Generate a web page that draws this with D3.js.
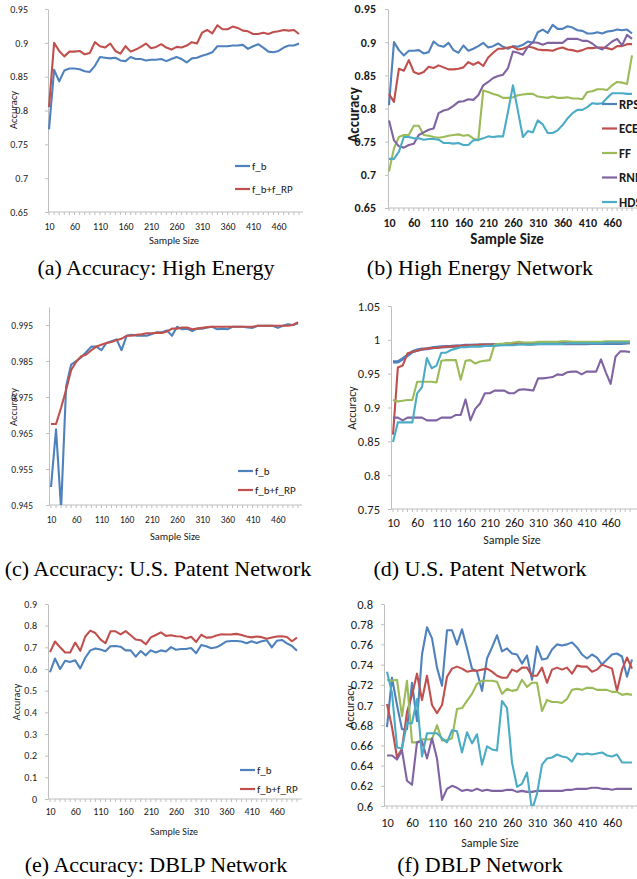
<!DOCTYPE html>
<html>
<head>
<meta charset="utf-8">
<script src="https://cdn.jsdelivr.net/npm/d3@7"></script>
<style>
  body { margin: 0; background: #fff; }
  svg { display: block; }
</style>
</head>
<body>
<script>
"use strict";

// sample sizes on the x axis (one point each)
const sampleSizes = [10, 20, 30, 40, 50, 60, 70, 80, 90, 100,
    110, 120, 130, 140, 150, 160, 170, 180, 190, 200,
    210, 220, 230, 240, 250, 260, 270, 280, 290, 300,
    310, 320, 330, 340, 350, 360, 370, 380, 390, 400,
    410, 420, 430, 440, 450, 460, 470, 480, 490, 500]
const xTickLabels = [10, 60, 110, 160, 210, 260, 310, 360, 410, 460]

// y tick labels per panel
const yTicksHE = [0.65, 0.7, 0.75, 0.8, 0.85, 0.9, 0.95]
const yTicksPatentA = [0.945, 0.955, 0.965, 0.975, 0.985, 0.995]
const yTicksPatentB = [0.75, 0.8, 0.85, 0.9, 0.95, 1, 1.05]
const yTicksDblpA = [0, 0.1, 0.2, 0.3, 0.4, 0.5, 0.6, 0.7, 0.8, 0.9]
const yTicksDblpB = [0.6, 0.62, 0.64, 0.66, 0.68, 0.7, 0.72, 0.74, 0.76, 0.78, 0.8]

// High Energy
const heRPS = [0.805, 0.900, 0.888, 0.880, 0.887, 0.887, 0.888, 0.883, 0.885, 0.901,
    0.895, 0.893, 0.899, 0.888, 0.884, 0.895, 0.887, 0.890, 0.894, 0.899,
    0.892, 0.894, 0.898, 0.893, 0.890, 0.894, 0.893, 0.896, 0.901, 0.899,
    0.915, 0.919, 0.914, 0.926, 0.920, 0.920, 0.924, 0.922, 0.918, 0.917,
    0.913, 0.913, 0.915, 0.913, 0.916, 0.917, 0.919, 0.918, 0.919, 0.913]
const heFb = [0.772, 0.860, 0.843, 0.859, 0.862, 0.862, 0.861, 0.858, 0.857, 0.866,
    0.879, 0.878, 0.877, 0.878, 0.874, 0.873, 0.879, 0.876, 0.876, 0.874,
    0.875, 0.875, 0.876, 0.873, 0.876, 0.879, 0.876, 0.871, 0.877, 0.878,
    0.881, 0.883, 0.886, 0.895, 0.895, 0.895, 0.896, 0.896, 0.897, 0.891,
    0.895, 0.898, 0.893, 0.887, 0.886, 0.888, 0.893, 0.896, 0.896, 0.899]
const heECE = [0.822, 0.810, 0.860, 0.857, 0.873, 0.855, 0.852, 0.855, 0.863, 0.861,
    0.865, 0.862, 0.859, 0.859, 0.860, 0.862, 0.870, 0.866, 0.870, 0.864,
    0.877, 0.884, 0.890, 0.890, 0.892, 0.893, 0.889, 0.890, 0.893, 0.892,
    0.889, 0.888, 0.888, 0.887, 0.890, 0.892, 0.889, 0.888, 0.886, 0.888,
    0.891, 0.891, 0.892, 0.892, 0.891, 0.889, 0.894, 0.894, 0.897, 0.897]
const heFF = [0.705, 0.740, 0.757, 0.760, 0.760, 0.774, 0.774, 0.760, 0.759, 0.757,
    0.756, 0.757, 0.759, 0.760, 0.761, 0.759, 0.760, 0.755, 0.752, 0.827,
    0.825, 0.822, 0.820, 0.816, 0.816, 0.817, 0.820, 0.821, 0.822, 0.822,
    0.818, 0.817, 0.816, 0.818, 0.816, 0.816, 0.817, 0.815, 0.815, 0.814,
    0.825, 0.826, 0.829, 0.829, 0.828, 0.835, 0.840, 0.839, 0.837, 0.880]
const heRNN = [0.782, 0.752, 0.743, 0.741, 0.745, 0.747, 0.760, 0.764, 0.768, 0.770,
    0.793, 0.797, 0.799, 0.804, 0.810, 0.811, 0.814, 0.813, 0.820, 0.835,
    0.840, 0.846, 0.849, 0.851, 0.861, 0.886, 0.884, 0.881, 0.893, 0.900,
    0.899, 0.896, 0.899, 0.899, 0.899, 0.899, 0.905, 0.905, 0.905, 0.902,
    0.902, 0.898, 0.892, 0.889, 0.895, 0.901, 0.905, 0.895, 0.911, 0.905]
const heHDS = [0.724, 0.724, 0.735, 0.757, 0.757, 0.755, 0.755, 0.753, 0.754, 0.754,
    0.753, 0.748, 0.748, 0.747, 0.748, 0.745, 0.745, 0.752, 0.753, 0.755,
    0.758, 0.757, 0.758, 0.758, 0.795, 0.835, 0.796, 0.757, 0.766, 0.764,
    0.782, 0.776, 0.763, 0.763, 0.767, 0.775, 0.785, 0.793, 0.798, 0.798,
    0.802, 0.808, 0.807, 0.808, 0.816, 0.823, 0.823, 0.823, 0.822, 0.822]

// U.S. Patent
const patRPS = [0.9675, 0.9675, 0.972, 0.977, 0.9825, 0.9848, 0.9863, 0.9868, 0.988, 0.989,
    0.9895, 0.990, 0.9903, 0.9908, 0.9912, 0.992, 0.992, 0.9923, 0.9924, 0.9927,
    0.9927, 0.9928, 0.9928, 0.9932, 0.994, 0.994, 0.9943, 0.9943, 0.9938, 0.994,
    0.9942, 0.9944, 0.9945, 0.9945, 0.9945, 0.9945, 0.9945, 0.9945, 0.9945, 0.9945,
    0.9945, 0.9948, 0.9948, 0.9948, 0.9948, 0.9948, 0.9948, 0.9948, 0.995, 0.9958]
const patFb = [0.950, 0.966, 0.944, 0.978, 0.984, 0.985, 0.986, 0.9875, 0.989, 0.989,
    0.988, 0.990, 0.9905, 0.991, 0.988, 0.992, 0.9923, 0.992, 0.992, 0.992,
    0.9925, 0.993, 0.993, 0.9935, 0.992, 0.9945, 0.9938, 0.994, 0.9933, 0.994,
    0.994, 0.9943, 0.9945, 0.9938, 0.994, 0.9938, 0.9945, 0.9945, 0.9945, 0.9943,
    0.9942, 0.9948, 0.9948, 0.9948, 0.9948, 0.9942, 0.9948, 0.9952, 0.995, 0.9955]
const patECE = [0.860, 0.959, 0.962, 0.980, 0.982, 0.984, 0.986, 0.987, 0.988, 0.988,
    0.989, 0.990, 0.990, 0.991, 0.991, 0.992, 0.992, 0.992, 0.993, 0.993,
    0.993, 0.993, 0.993, 0.994, 0.994, 0.994, 0.994, 0.994, 0.994, 0.995,
    0.995, 0.995, 0.995, 0.995, 0.995, 0.995, 0.995, 0.995, 0.995, 0.995,
    0.995, 0.995, 0.995, 0.996, 0.996, 0.996, 0.996, 0.996, 0.996, 0.996]
const patFF = [0.911, 0.909, 0.910, 0.911, 0.911, 0.938, 0.938, 0.938, 0.938, 0.937,
    0.969, 0.970, 0.970, 0.970, 0.941, 0.969, 0.970, 0.965, 0.968, 0.969,
    0.970, 0.993, 0.994, 0.994, 0.995, 0.996, 0.997, 0.996, 0.996, 0.996,
    0.997, 0.997, 0.997, 0.997, 0.997, 0.998, 0.998, 0.997, 0.997, 0.997,
    0.997, 0.997, 0.997, 0.997, 0.998, 0.998, 0.998, 0.998, 0.998, 0.998]
const patRNN = [0.885, 0.885, 0.881, 0.885, 0.885, 0.885, 0.885, 0.881, 0.881, 0.881,
    0.885, 0.885, 0.885, 0.889, 0.889, 0.912, 0.881, 0.898, 0.906, 0.921,
    0.921, 0.925, 0.925, 0.925, 0.921, 0.921, 0.926, 0.927, 0.926, 0.925,
    0.943, 0.943, 0.944, 0.945, 0.949, 0.948, 0.952, 0.953, 0.953, 0.949,
    0.953, 0.953, 0.953, 0.971, 0.952, 0.935, 0.975, 0.983, 0.983, 0.982]
const patHDS = [0.849, 0.878, 0.878, 0.878, 0.878, 0.921, 0.930, 0.973, 0.958, 0.962,
    0.981, 0.981, 0.985, 0.987, 0.989, 0.989, 0.990, 0.990, 0.990, 0.991,
    0.991, 0.991, 0.992, 0.992, 0.992, 0.992, 0.993, 0.993, 0.993, 0.993,
    0.994, 0.994, 0.994, 0.994, 0.994, 0.994, 0.995, 0.995, 0.995, 0.995,
    0.995, 0.995, 0.995, 0.995, 0.996, 0.996, 0.996, 0.996, 0.996, 0.996]

// DBLP
const dbRPS = [0.678, 0.727, 0.700, 0.676, 0.676, 0.722, 0.684, 0.750, 0.777, 0.766,
    0.737, 0.719, 0.774, 0.774, 0.760, 0.775, 0.756, 0.736, 0.733, 0.714,
    0.746, 0.757, 0.769, 0.753, 0.756, 0.751, 0.750, 0.741, 0.749, 0.725,
    0.758, 0.745, 0.746, 0.755, 0.760, 0.759, 0.760, 0.762, 0.757, 0.750,
    0.746, 0.750, 0.747, 0.740, 0.745, 0.750, 0.751, 0.748, 0.728, 0.745]
const dbFb = [0.585, 0.648, 0.600, 0.638, 0.632, 0.640, 0.603, 0.652, 0.686, 0.695,
    0.690, 0.682, 0.705, 0.706, 0.703, 0.686, 0.686, 0.657, 0.683, 0.663,
    0.686, 0.676, 0.686, 0.681, 0.701, 0.689, 0.692, 0.692, 0.697, 0.673,
    0.711, 0.705, 0.696, 0.700, 0.712, 0.727, 0.729, 0.729, 0.727, 0.719,
    0.728, 0.720, 0.728, 0.733, 0.700, 0.730, 0.734, 0.718, 0.706, 0.684]
const dbECE = [0.701, 0.678, 0.648, 0.657, 0.693, 0.710, 0.731, 0.705, 0.729, 0.700,
    0.692, 0.700, 0.728, 0.736, 0.738, 0.736, 0.733, 0.734, 0.734, 0.735,
    0.736, 0.733, 0.729, 0.727, 0.727, 0.735, 0.733, 0.737, 0.737, 0.729,
    0.729, 0.737, 0.722, 0.735, 0.737, 0.735, 0.737, 0.731, 0.739, 0.738,
    0.738, 0.733, 0.735, 0.740, 0.738, 0.736, 0.714, 0.735, 0.747, 0.736]
const dbFF = [0.725, 0.724, 0.725, 0.689, 0.724, 0.663, 0.663, 0.666, 0.666, 0.666,
    0.680, 0.665, 0.665, 0.667, 0.696, 0.697, 0.704, 0.711, 0.721, 0.724,
    0.724, 0.724, 0.723, 0.711, 0.716, 0.714, 0.715, 0.725, 0.718, 0.722,
    0.722, 0.694, 0.705, 0.703, 0.703, 0.702, 0.706, 0.715, 0.716, 0.715,
    0.717, 0.717, 0.715, 0.715, 0.715, 0.713, 0.713, 0.710, 0.711, 0.710]
const dbRNN = [0.650, 0.650, 0.646, 0.655, 0.625, 0.621, 0.663, 0.664, 0.647, 0.667,
    0.647, 0.606, 0.617, 0.620, 0.618, 0.615, 0.616, 0.615, 0.617, 0.615,
    0.616, 0.615, 0.615, 0.615, 0.616, 0.616, 0.614, 0.615, 0.614, 0.614,
    0.615, 0.615, 0.615, 0.615, 0.615, 0.615, 0.616, 0.616, 0.617, 0.617,
    0.617, 0.618, 0.618, 0.617, 0.617, 0.616, 0.617, 0.617, 0.617, 0.617]
const dbHDS = [0.733, 0.712, 0.658, 0.657, 0.682, 0.682, 0.706, 0.649, 0.672, 0.672,
    0.672, 0.667, 0.663, 0.675, 0.674, 0.653, 0.673, 0.662, 0.671, 0.641,
    0.659, 0.656, 0.655, 0.704, 0.697, 0.643, 0.619, 0.622, 0.633, 0.596,
    0.612, 0.641, 0.647, 0.648, 0.651, 0.649, 0.648, 0.644, 0.652, 0.651,
    0.652, 0.651, 0.652, 0.653, 0.650, 0.649, 0.651, 0.643, 0.643, 0.643]

const colors = {
    blue: "#4F81BD",
    red: "#C0504D",
    green: "#9BBB59",
    purple: "#8064A2",
    cyan: "#4BACC6"
}
const axisColor = "#BFBFBF"
const excelFont = "Carlito, 'Liberation Sans Narrow', 'Liberation Sans', Arial, sans-serif"
const captionFont = "'Liberation Serif', 'Times New Roman', serif"

const svg = d3.select("body").append("svg")
    .attr("width", 637)
    .attr("height", 879)

svg.append("rect").attr("width", 637).attr("height", 879).attr("fill", "#fff")

function methods(rps, ece, ff, rnn, hds) {
    return [
        { name: "RPS", values: rps, color: colors.blue },
        { name: "ECE", values: ece, color: colors.red },
        { name: "FF", values: ff, color: colors.green },
        { name: "RNN", values: rnn, color: colors.purple },
        { name: "HDS", values: hds, color: colors.cyan }
    ]
}

function pair(fb, rp) {
    return [
        { name: "f_b", values: fb, color: colors.blue },
        { name: "f_b+f_RP", values: rp, color: colors.red }
    ]
}

const panels = [
    { id: "a", axisX: 48, x0: 49, x1: 299, axisEnd: 303, top: 9, bottom: 212,
      domain: [0.65, 0.95], yTicks: yTicksHE, series: pair(heFb, heRPS),
      tickFont: 10, bold: false, titleFont: 10.5, yPad: 17, xPad: 11,
      accX: 13, accY: 110, ssX: 174, ssY: 244,
      legend: { x: 235, y: 166, dy: 23, font: 11, bold: false },
      caption: "(a)  Accuracy: High Energy", capX: 156, capY: 275 },
    { id: "b", axisX: 388, x0: 389, x1: 632, axisEnd: 637, top: 9, bottom: 208,
      domain: [0.65, 0.95], yTicks: yTicksHE,
      series: methods(heRPS, heECE, heFF, heRNN, heHDS),
      tickFont: 12, bold: true, titleFont: 15, yPad: 9, xPad: 10,
      accX: 354, accY: 115, ssX: 507, ssY: 244,
      legend: { x: 602, y: 104, dy: 24.5, font: 13, bold: true },
      caption: "(b)  High Energy Network", capX: 480, capY: 275 },
    { id: "c", axisX: 49, x0: 51, x1: 298, axisEnd: 302, top: 307, bottom: 505,
      domain: [0.945, 1.0], yTicks: yTicksPatentA, series: pair(patFb, patRPS),
      tickFont: 9.5, bold: false, titleFont: 10.5, yPad: 13, xPad: 11,
      accX: 13, accY: 407, ssX: 175, ssY: 540,
      legend: { x: 238, y: 471, dy: 19, font: 11, bold: false },
      caption: "(c)  Accuracy: U.S. Patent Network", capX: 158, capY: 576 },
    { id: "d", axisX: 391, x0: 393, x1: 630, axisEnd: 637, top: 306, bottom: 509,
      domain: [0.75, 1.05], yTicks: yTicksPatentB,
      series: methods(patRPS, patECE, patFF, patRNN, patHDS),
      tickFont: 12.5, bold: false, titleFont: 12, yPad: 8, xPad: 9,
      accX: 352, accY: 408, ssX: 512, ssY: 544,
      legend: null, thick: "RPS",
      caption: "(d)  U.S. Patent Network", capX: 480, capY: 576 },
    { id: "e", axisX: 48, x0: 50, x1: 297, axisEnd: 302, top: 604, bottom: 799,
      domain: [0, 0.9], yTicks: yTicksDblpA, series: pair(dbFb, dbRPS),
      tickFont: 10, bold: false, titleFont: 10, yPad: 8, xPad: 9,
      accX: 16, accY: 702, ssX: 174, ssY: 835,
      legend: { x: 240, y: 770, dy: 19, font: 11, bold: false },
      caption: "(e)  Accuracy: DBLP Network", capX: 156, capY: 872 },
    { id: "f", axisX: 384, x0: 387, x1: 632, axisEnd: 637, top: 604, bottom: 806,
      domain: [0.6, 0.8], yTicks: yTicksDblpB,
      series: methods(dbRPS, dbECE, dbFF, dbRNN, dbHDS),
      tickFont: 12.5, bold: false, titleFont: 12, yPad: 8, xPad: 12,
      accX: 350, accY: 707, ssX: 490, ssY: 847,
      legend: null,
      caption: "(f)  DBLP Network", capX: 480, capY: 872 }
]

panels.forEach(drawPanel)

function drawPanel(p) {
    const g = svg.append("g").attr("class", "panel-" + p.id)
    const weight = p.bold ? "bold" : "normal"

    const x = d3.scalePoint().domain(sampleSizes).range([p.x0, p.x1])
    const y = d3.scaleLinear().domain(p.domain).range([p.bottom, p.top])

    // y axis
    const yAxis = d3.axisLeft(y)
        .tickValues(p.yTicks)
        .tickFormat(d3.format(""))
        .tickSize(3)
        .tickSizeOuter(0)
        .tickPadding(p.yPad)
    const gy = g.append("g")
        .attr("transform", "translate(" + p.axisX + ",0)")
        .call(yAxis)
    gy.selectAll("path, line").attr("stroke", axisColor)
    gy.selectAll("text")
        .attr("fill", "#1a1a1a")
        .style("font-family", excelFont)
        .style("font-size", p.tickFont + "px")
        .style("font-weight", weight)

    // x axis: labels every 5th sample, small tick at every sample
    const xAxis = d3.axisBottom(x)
        .tickValues(xTickLabels)
        .tickSize(0)
        .tickPadding(p.xPad)
    const gx = g.append("g")
        .attr("transform", "translate(0," + p.bottom + ")")
        .call(xAxis)
    gx.select(".domain").remove()
    gx.selectAll("text")
        .attr("fill", "#1a1a1a")
        .style("font-family", excelFont)
        .style("font-size", p.tickFont + "px")
        .style("font-weight", weight)

    g.append("line")
        .attr("x1", p.axisX).attr("x2", p.axisEnd)
        .attr("y1", p.bottom).attr("y2", p.bottom)
        .attr("stroke", axisColor)

    g.selectAll(".minor")
        .data(sampleSizes)
        .enter()
        .append("line")
            .attr("x1", d => x(d)).attr("x2", d => x(d))
            .attr("y1", p.bottom).attr("y2", p.bottom + 3)
            .attr("stroke", axisColor)

    // lines, clipped to the plot area
    g.append("clipPath").attr("id", "clip-" + p.id)
        .append("rect")
            .attr("x", p.axisX).attr("y", p.top - 1)
            .attr("width", 640 - p.axisX).attr("height", p.bottom - p.top + 1)

    const line = d3.line()
        .x((d, i) => x(sampleSizes[i]))
        .y(d => y(d))

    g.append("g")
        .attr("clip-path", "url(#clip-" + p.id + ")")
        .selectAll("path")
        .data(p.series)
        .enter()
        .append("path")
            .attr("d", d => line(d.values))
            .attr("fill", "none")
            .attr("stroke", d => d.color)
            .attr("stroke-width", d => d.name === p.thick ? 3.2 : 2.1)
            .attr("stroke-linejoin", "round")

    // axis titles
    g.append("text")
        .attr("transform", "translate(" + p.accX + "," + p.accY + ")rotate(-90)")
        .attr("text-anchor", "middle")
        .attr("dy", "0.35em")
        .style("font-family", excelFont)
        .style("font-size", p.titleFont + "px")
        .style("font-weight", weight)
        .attr("fill", "#1a1a1a")
        .text("Accuracy")

    g.append("text")
        .attr("x", p.ssX).attr("y", p.ssY)
        .attr("text-anchor", "middle")
        .style("font-family", excelFont)
        .style("font-size", p.titleFont + "px")
        .style("font-weight", weight)
        .attr("fill", "#1a1a1a")
        .text("Sample Size")

    // legend
    if (p.legend) {
        const lg = g.append("g")
        const items = lg.selectAll("g")
            .data(p.series)
            .enter()
            .append("g")
                .attr("transform", (d, i) => "translate(" + p.legend.x + "," + (p.legend.y + i * p.legend.dy) + ")")
        items.append("line")
            .attr("x1", 0).attr("x2", 15)
            .attr("stroke", d => d.color)
            .attr("stroke-width", 2.2)
        items.append("text")
            .attr("x", 17)
            .attr("dy", "0.35em")
            .style("font-family", excelFont)
            .style("font-size", p.legend.font + "px")
            .style("font-weight", p.legend.bold ? "bold" : "normal")
            .attr("fill", "#1a1a1a")
            .text(d => d.name)
    }

    // caption under the chart
    svg.append("text")
        .attr("x", p.capX).attr("y", p.capY)
        .attr("text-anchor", "middle")
        .style("font-family", captionFont)
        .style("font-size", "22px")
        .attr("fill", "#000")
        .text(p.caption)
}
</script>
</body>
</html>
